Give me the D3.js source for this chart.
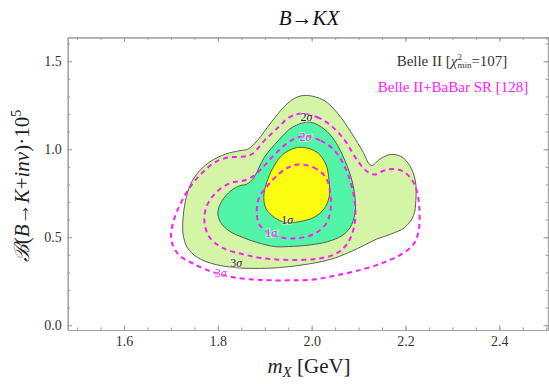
<!DOCTYPE html>
<html>
<head>
<meta charset="utf-8">
<script src="https://cdn.jsdelivr.net/npm/d3@7"></script>
<style>
  body { margin: 0; background: #fff; }
  text { font-family: "Liberation Serif", "DejaVu Serif", serif; }
</style>
</head>
<body>
<div id="chart"></div>
<script>
// contour points: [m_X, BR*1e5]
const belle3s = [[1.989,1.306],[2.026,1.278],[2.056,1.202],[2.086,1.087],[2.108,0.992],[2.127,0.907],[2.146,0.945],[2.168,0.970],[2.191,0.958],[2.209,0.907],[2.221,0.821],[2.222,0.707],[2.217,0.622],[2.198,0.555],[2.168,0.517],[2.138,0.489],[2.116,0.460],[2.079,0.413],[2.041,0.375],[1.989,0.346],[1.929,0.327],[1.877,0.323],[1.839,0.327],[1.794,0.346],[1.757,0.384],[1.735,0.441],[1.726,0.517],[1.726,0.612],[1.731,0.707],[1.742,0.802],[1.761,0.878],[1.787,0.935],[1.817,0.973],[1.847,0.992],[1.865,1.002],[1.884,1.049],[1.914,1.154],[1.944,1.249],[1.966,1.293]];
const belle2s = [[1.996,1.154],[2.026,1.116],[2.049,1.049],[2.071,0.935],[2.086,0.821],[2.093,0.707],[2.092,0.631],[2.082,0.555],[2.064,0.508],[2.034,0.475],[1.996,0.456],[1.951,0.447],[1.921,0.447],[1.884,0.470],[1.854,0.498],[1.824,0.536],[1.806,0.584],[1.800,0.641],[1.809,0.707],[1.828,0.764],[1.847,0.793],[1.862,0.802],[1.877,0.840],[1.899,0.954],[1.929,1.049],[1.959,1.125]];
const belle1s = [[1.981,1.011],[2.011,0.983],[2.030,0.916],[2.037,0.821],[2.037,0.726],[2.026,0.660],[2.004,0.612],[1.974,0.589],[1.944,0.584],[1.921,0.612],[1.903,0.660],[1.898,0.726],[1.903,0.802],[1.918,0.897],[1.936,0.964],[1.959,1.002]];
const comb3s = [[1.974,1.202],[2.011,1.183],[2.041,1.135],[2.071,1.049],[2.093,0.954],[2.116,0.878],[2.135,0.856],[2.153,0.878],[2.176,0.888],[2.198,0.869],[2.217,0.812],[2.227,0.726],[2.230,0.631],[2.228,0.536],[2.217,0.460],[2.191,0.403],[2.153,0.356],[2.108,0.317],[2.056,0.285],[2.004,0.260],[1.951,0.255],[1.892,0.257],[1.839,0.270],[1.794,0.298],[1.750,0.346],[1.716,0.403],[1.701,0.479],[1.701,0.536],[1.708,0.612],[1.720,0.688],[1.738,0.774],[1.764,0.859],[1.794,0.926],[1.824,0.954],[1.854,0.958],[1.873,0.973],[1.899,1.049],[1.929,1.125],[1.951,1.179]];
const comb2s = [[1.981,1.074],[2.019,1.049],[2.049,0.992],[2.071,0.897],[2.086,0.783],[2.093,0.669],[2.090,0.555],[2.075,0.460],[2.049,0.403],[2.004,0.375],[1.951,0.371],[1.899,0.380],[1.854,0.403],[1.809,0.441],[1.783,0.498],[1.772,0.574],[1.774,0.660],[1.787,0.726],[1.809,0.783],[1.832,0.812],[1.854,0.821],[1.877,0.850],[1.899,0.907],[1.922,0.973],[1.951,1.040]];
const comb1s = [[1.970,0.913],[2.004,0.897],[2.030,0.840],[2.040,0.745],[2.040,0.650],[2.030,0.574],[2.004,0.517],[1.966,0.494],[1.936,0.498],[1.907,0.527],[1.888,0.574],[1.883,0.650],[1.888,0.726],[1.903,0.783],[1.922,0.840],[1.944,0.888]];

// contour labels: [x, y, text, which]
const labels = [[1.948,0.599,"1","belle"],[1.989,1.186,"2","belle"],[1.839,0.356,"3","belle"],
                [1.914,0.523,"1","comb"],[1.987,1.072,"2","comb"],[1.806,0.298,"3","comb"]];

const xTicks = [1.6, 1.8, 2.0, 2.2, 2.4];
const xMinor = d3.range(1.5, 2.501, 0.05);
const yTicks = [0.0, 0.5, 1.0, 1.5];
const yMinor = d3.range(0, 1.61, 0.1);

const width = 549, height = 384;

const svg = d3.select("#chart")
    .append("svg")
    .attr("width", width)
    .attr("height", height);

const x = d3.scaleLinear().domain([1.48, 2.505]).range([67.7, 548.6]);
const y = d3.scaleLinear().domain([-0.027, 1.636]).range([330, 37.3]);

const line = d3.line()
    .x(d => x(d[0]))
    .y(d => y(d[1]))
    .curve(d3.curveCatmullRomClosed.alpha(0.5));

// filled Belle II regions
const fills = [[belle3s, "#d4f5a6"], [belle2s, "#52f5a8"], [belle1s, "#fcfc10"]];
svg.selectAll(".region")
    .data(fills)
    .join("path")
    .attr("class", "region")
    .attr("d", d => line(d[0]))
    .attr("fill", d => d[1])
    .attr("stroke", "#4d4d4d")
    .attr("stroke-width", 0.9);

// Belle II + BaBar dashed contours
svg.selectAll(".comb")
    .data([comb3s, comb2s, comb1s])
    .join("path")
    .attr("class", "comb")
    .attr("d", d => line(d))
    .attr("fill", "none")
    .attr("stroke", "#ff1aff")
    .attr("stroke-width", 2)
    .attr("stroke-dasharray", "5,4");

// contour labels
const lab = svg.selectAll(".clab")
    .data(labels)
    .join("text")
    .attr("class", "clab")
    .attr("x", d => x(d[0]))
    .attr("y", d => y(d[1]))
    .attr("dy", "0.35em")
    .attr("text-anchor", "middle")
    .attr("font-size", 12)
    .attr("fill", d => d[3] === "belle" ? "#222" : "#d93ad9")
    .attr("stroke", "rgba(255,255,255,0.35)")
    .attr("stroke-width", 2.5)
    .attr("paint-order", "stroke");
lab.append("tspan").text(d => d[2]);
lab.append("tspan").attr("font-style", "italic").text("σ");

// frame and ticks
function frameAxis(axis, tf) {
    const g = svg.append("g").attr("transform", tf).call(axis)
        .attr("font-family", '"Liberation Serif", serif')
        .attr("font-size", 14);
    g.selectAll("line").attr("stroke", "#999");
    g.select(".domain").attr("stroke", "#a6a6a6").attr("stroke-width", 1.2);
    g.selectAll("text").attr("fill", "#333");
    return g;
}

frameAxis(d3.axisBottom(x).tickValues(xMinor).tickSize(-2.5).tickSizeOuter(0).tickFormat(""), "translate(0,330)");
frameAxis(d3.axisBottom(x).tickValues(xTicks).tickSize(-4.5).tickSizeOuter(0).tickPadding(6).tickFormat(d3.format(".1f")), "translate(0,330)");
frameAxis(d3.axisTop(x).tickValues(xMinor).tickSize(-2.5).tickSizeOuter(0).tickFormat(""), "translate(0,37.3)");
frameAxis(d3.axisTop(x).tickValues(xTicks).tickSize(-4.5).tickSizeOuter(0).tickFormat(""), "translate(0,37.3)");
frameAxis(d3.axisLeft(y).tickValues(yMinor).tickSize(-2.5).tickSizeOuter(0).tickFormat(""), "translate(67.7,0)");
frameAxis(d3.axisLeft(y).tickValues(yTicks).tickSize(-4.5).tickSizeOuter(0).tickPadding(6).tickFormat(d3.format(".1f")), "translate(67.7,0)");
frameAxis(d3.axisRight(y).tickValues(yMinor).tickSize(-2.5).tickSizeOuter(0).tickFormat(""), "translate(548,0)");
frameAxis(d3.axisRight(y).tickValues(yTicks).tickSize(-4.5).tickSizeOuter(0).tickFormat(""), "translate(548,0)");

// title
const title = svg.append("text")
    .attr("x", 309).attr("y", 25)
    .attr("text-anchor", "middle")
    .attr("font-size", 21)
    .attr("fill", "#111");
title.append("tspan").attr("font-style", "italic").text("B");
title.append("tspan").text("→");
title.append("tspan").attr("font-style", "italic").text("KX");

// x axis title
const xt = svg.append("text")
    .attr("x", 309).attr("y", 373)
    .attr("text-anchor", "middle")
    .attr("font-size", 21)
    .attr("fill", "#222");
xt.append("tspan").attr("font-style", "italic").text("m");
xt.append("tspan").attr("font-style", "italic").attr("font-size", 15).attr("dy", 4).text("X");
xt.append("tspan").attr("dy", -4).text(" [GeV]");

// y axis title
const yt = svg.append("text")
    .attr("transform", "translate(29,186) rotate(-90)")
    .attr("text-anchor", "middle")
    .attr("font-size", 21)
    .attr("fill", "#222");
yt.append("tspan").attr("font-style", "italic").text("ℬ");
yt.append("tspan").text("(");
yt.append("tspan").attr("font-style", "italic").text("B");
yt.append("tspan").text("→");
yt.append("tspan").attr("font-style", "italic").text("K");
yt.append("tspan").text("+");
yt.append("tspan").attr("font-style", "italic").text("inv");
yt.append("tspan").text(")·10");
yt.append("tspan").attr("font-size", 14).attr("dy", -8).text("5");

// legend
const l1 = svg.append("text")
    .attr("x", 452).attr("y", 66)
    .attr("text-anchor", "middle")
    .attr("font-size", 15)
    .attr("fill", "#333");
l1.append("tspan").text("Belle II [");
l1.append("tspan").attr("font-style", "italic").text("χ");
l1.append("tspan").attr("font-size", 9).attr("dy", -6).text("2");
l1.append("tspan").attr("font-size", 9).attr("dx", -4.5).attr("dy", 8).text("min");
l1.append("tspan").attr("dy", -2).text("=107]");

svg.append("text")
    .attr("x", 453).attr("y", 92)
    .attr("text-anchor", "middle")
    .attr("font-size", 15)
    .attr("fill", "#ff1aff")
    .text("Belle II+BaBar SR [128]");
</script>
</body>
</html>
